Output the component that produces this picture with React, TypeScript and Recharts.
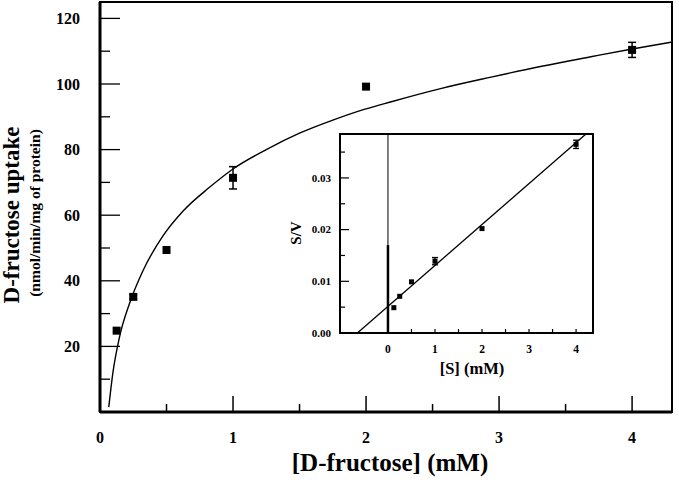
import React from 'react';
import {
  ComposedChart,
  Line,
  Scatter,
  XAxis,
  YAxis,
  ErrorBar,
  ReferenceArea,
  ReferenceLine,
} from 'recharts';

const FONT = '"Liberation Serif", "DejaVu Serif", "Times New Roman", serif';

// ---------- Main chart data ----------
const MAIN_X = [0.125, 0.25, 0.5, 1, 2, 4];
const MAIN_Y = [24.8, 35.1, 49.4, 71.4, 99.2, 110.4];
const MAIN_ERR = [0, 0.7, 0, 3.4, 0, 2.3];

const CURVE_X = [0.066, 0.096, 0.147, 0.222, 0.322, 0.472, 0.623, 0.823, 1.0, 1.25, 1.5, 1.75, 1.95, 2.19, 2.56, 2.94, 3.32, 3.69, 3.99, 4.3];
const CURVE_Y = [1.5, 11.7, 22.9, 33.1, 43.0, 53.6, 61.2, 68.5, 74.1, 80.0, 85.0, 89.0, 91.8, 94.6, 98.6, 102.1, 105.4, 108.3, 110.6, 112.8];

const MAIN_X_MAX = 4.3;
const MAIN_Y_MAX = 125;
const MAIN_X_TICKS = [0, 0.5, 1, 1.5, 2, 2.5, 3, 3.5, 4];
const MAIN_X_LABELS = [0, 1, 2, 3, 4];
const MAIN_Y_TICKS = [10, 20, 30, 40, 50, 60, 70, 80, 90, 100, 110, 120];
const MAIN_Y_LABELS = [20, 40, 60, 80, 100, 120];

// ---------- Inset data ----------
const INSET_X = [0.125, 0.25, 0.5, 1, 2, 4];
const INSET_Y = [0.0049, 0.0071, 0.0099, 0.0139, 0.0202, 0.0365];
const INSET_ERR = [0, 0, 0, 0.0007, 0, 0.0008];

const FIT_X = [-0.65, 4.21];
const FIT_Y = [0, 0.0385];

const INSET_X_MIN = -1.02;
const INSET_X_MAX = 4.36;
const INSET_Y_MAX = 0.0385;
const INSET_X_TICKS = [0, 0.5, 1, 1.5, 2, 2.5, 3, 3.5, 4];
const INSET_X_LABELS = [0, 1, 2, 3, 4];
const INSET_Y_TICKS = [0, 0.005, 0.01, 0.015, 0.02, 0.025, 0.03, 0.035];
const INSET_Y_LABELS = [0, 0.01, 0.02, 0.03];

const mainPoints = MAIN_X.map((x, i) => ({ x, y: MAIN_Y[i], err: MAIN_ERR[i] }));
const curve = CURVE_X.map((x, i) => ({ x, y: CURVE_Y[i] }));
const insetPoints = INSET_X.map((x, i) => ({ x, y: INSET_Y[i], err: INSET_ERR[i] }));
const fit = FIT_X.map((x, i) => ({ x, y: FIT_Y[i] }));

const close = (a: number, b: number) => Math.abs(a - b) < 1e-9;
const inList = (list: number[], v: number) => list.some((t) => close(t, v));

// ---------- Tick renderers ----------
const renderMainXTick = (props: any) => {
  const { x, y, payload } = props;
  const v = payload.value;
  const major = inList(MAIN_X_LABELS, v);
  return (
    <g>
      {!close(v, 0) && (
        <line x1={x} x2={x} y1={y} y2={y - (major ? 16 : 8)} stroke="#000" strokeWidth={1.5} />
      )}
      {major && (
        <text x={x} y={y + 31} textAnchor="middle" fontFamily={FONT} fontWeight="bold" fontSize={16} fill="#000">
          {v}
        </text>
      )}
    </g>
  );
};

const renderMainYTick = (props: any) => {
  const { x, y, payload } = props;
  const v = payload.value;
  const major = inList(MAIN_Y_LABELS, v);
  return (
    <g>
      <line x1={x} x2={x + (major ? 20 : 10)} y1={y} y2={y} stroke="#000" strokeWidth={1.3} />
      {major && (
        <text x={x - 20} y={y} dy="0.35em" textAnchor="end" fontFamily={FONT} fontWeight="bold" fontSize={16} fill="#000">
          {v}
        </text>
      )}
    </g>
  );
};

const renderInsetXTick = (props: any) => {
  const { x, y, payload } = props;
  const v = payload.value;
  const labelled = inList(INSET_X_LABELS, v);
  return (
    <g>
      {!close(v, 0) && <line x1={x} x2={x} y1={y} y2={y - 4} stroke="#000" strokeWidth={1.2} />}
      {labelled && (
        <text x={x} y={y + 20} textAnchor="middle" fontFamily={FONT} fontWeight="bold" fontSize={11.5} fill="#000">
          {v}
        </text>
      )}
    </g>
  );
};

const renderInsetYTick = (props: any) => {
  const { x, y, payload } = props;
  const v = payload.value;
  const major = inList(INSET_Y_LABELS, v);
  return (
    <g>
      {!close(v, 0) && <line x1={x} x2={x + (major ? 9 : 5)} y1={y} y2={y} stroke="#000" strokeWidth={1.2} />}
      {major && (
        <text x={x - 9} y={y} dy="0.35em" textAnchor="end" fontFamily={FONT} fontWeight="bold" fontSize={11} fill="#000">
          {v.toFixed(2)}
        </text>
      )}
    </g>
  );
};

// ---------- Axis titles ----------
const renderMainYTitle = () => (
  <g>
    <text x={19} y={215} transform="rotate(-90 19 215)" textAnchor="middle" fontFamily={FONT} fontWeight="bold" fontSize={23} fill="#000">
      D-fructose uptake
    </text>
    <text x={40} y={213} transform="rotate(-90 40 213)" textAnchor="middle" fontFamily={FONT} fontWeight="bold" fontSize={15.5} fill="#000">
      (nmol/min/mg of protein)
    </text>
  </g>
);

const renderMainXTitle = () => (
  <text x={390} y={471} textAnchor="middle" fontFamily={FONT} fontWeight="bold" fontSize={25} fill="#000">
    [D-fructose] (mM)
  </text>
);

const renderInsetYTitle = () => (
  <text x={21} y={113} transform="rotate(-90 21 113)" textAnchor="middle" fontFamily={FONT} fontWeight="bold" fontSize={15} fill="#000">
    S/V
  </text>
);

const renderInsetXTitle = () => (
  <text x={192} y={254} textAnchor="middle" fontFamily={FONT} fontWeight="bold" fontSize={16.5} fill="#000">
    [S] (mM)
  </text>
);

const squareMain = (p: any) => <rect x={p.cx - 4} y={p.cy - 4} width={8} height={8} fill="#000" />;
const squareInset = (p: any) => <rect x={p.cx - 2.5} y={p.cy - 2.5} width={5} height={5} fill="#000" />;

export default function App() {
  return (
    <div style={{ position: 'absolute', left: 0, top: 0, width: 679, height: 482, background: '#fff' }}>
      <ComposedChart width={679} height={482} margin={{ top: 2, right: 7, bottom: 0, left: 0 }}>
        <XAxis
          type="number"
          dataKey="x"
          domain={[0, MAIN_X_MAX]}
          allowDataOverflow
          ticks={MAIN_X_TICKS}
          interval={0}
          tickSize={0}
          tickMargin={0}
          tickLine={false}
          tick={renderMainXTick}
          axisLine={{ stroke: '#000', strokeWidth: 3 }}
          height={70}
          label={renderMainXTitle}
        />
        <YAxis
          type="number"
          domain={[0, MAIN_Y_MAX]}
          allowDataOverflow
          ticks={MAIN_Y_TICKS}
          interval={0}
          tickSize={0}
          tickMargin={0}
          tickLine={false}
          tick={renderMainYTick}
          axisLine={{ stroke: '#000', strokeWidth: 3 }}
          width={100}
          label={renderMainYTitle}
        />
        <ReferenceArea x1={0} x2={MAIN_X_MAX} y1={0} y2={MAIN_Y_MAX} fill="none" stroke="#000" strokeWidth={2} fillOpacity={0} />
        <Line
          data={curve}
          dataKey="y"
          type="monotone"
          dot={false}
          activeDot={false}
          stroke="#000"
          strokeWidth={1.4}
          isAnimationActive={false}
        />
        <Scatter data={mainPoints} dataKey="y" shape={squareMain} isAnimationActive={false}>
          <ErrorBar dataKey="err" direction="y" width={4} stroke="#000" strokeWidth={1.5} />
        </Scatter>
      </ComposedChart>

      <div style={{ position: 'absolute', left: 280, top: 120, width: 330, height: 270 }}>
        <ComposedChart width={330} height={270} margin={{ top: 14, right: 17, bottom: 0, left: 0 }}>
          <XAxis
            type="number"
            dataKey="x"
            domain={[INSET_X_MIN, INSET_X_MAX]}
            allowDataOverflow
            ticks={INSET_X_TICKS}
            interval={0}
            tickSize={0}
            tickMargin={0}
            tickLine={false}
            tick={renderInsetXTick}
            axisLine={{ stroke: '#000', strokeWidth: 2 }}
            height={57}
            label={renderInsetXTitle}
          />
          <YAxis
            type="number"
            domain={[0, INSET_Y_MAX]}
            allowDataOverflow
            ticks={INSET_Y_TICKS}
            interval={0}
            tickSize={0}
            tickMargin={0}
            tickLine={false}
            tick={renderInsetYTick}
            axisLine={{ stroke: '#000', strokeWidth: 2 }}
            width={60}
            label={renderInsetYTitle}
          />
          <ReferenceArea x1={INSET_X_MIN} x2={INSET_X_MAX} y1={0} y2={INSET_Y_MAX} fill="none" fillOpacity={0} stroke="#000" strokeWidth={2} />
          <ReferenceLine x={0} stroke="#000" strokeWidth={1} />
          <ReferenceLine segment={[{ x: 0, y: 0 }, { x: 0, y: 0.017 }]} stroke="#000" strokeWidth={2.5} />
          <Line
            data={fit}
            dataKey="y"
            type="linear"
            dot={false}
            activeDot={false}
            stroke="#000"
            strokeWidth={1.3}
            isAnimationActive={false}
          />
          <Scatter data={insetPoints} dataKey="y" shape={squareInset} isAnimationActive={false}>
            <ErrorBar dataKey="err" direction="y" width={3} stroke="#000" strokeWidth={1.3} />
          </Scatter>
        </ComposedChart>
      </div>
    </div>
  );
}
